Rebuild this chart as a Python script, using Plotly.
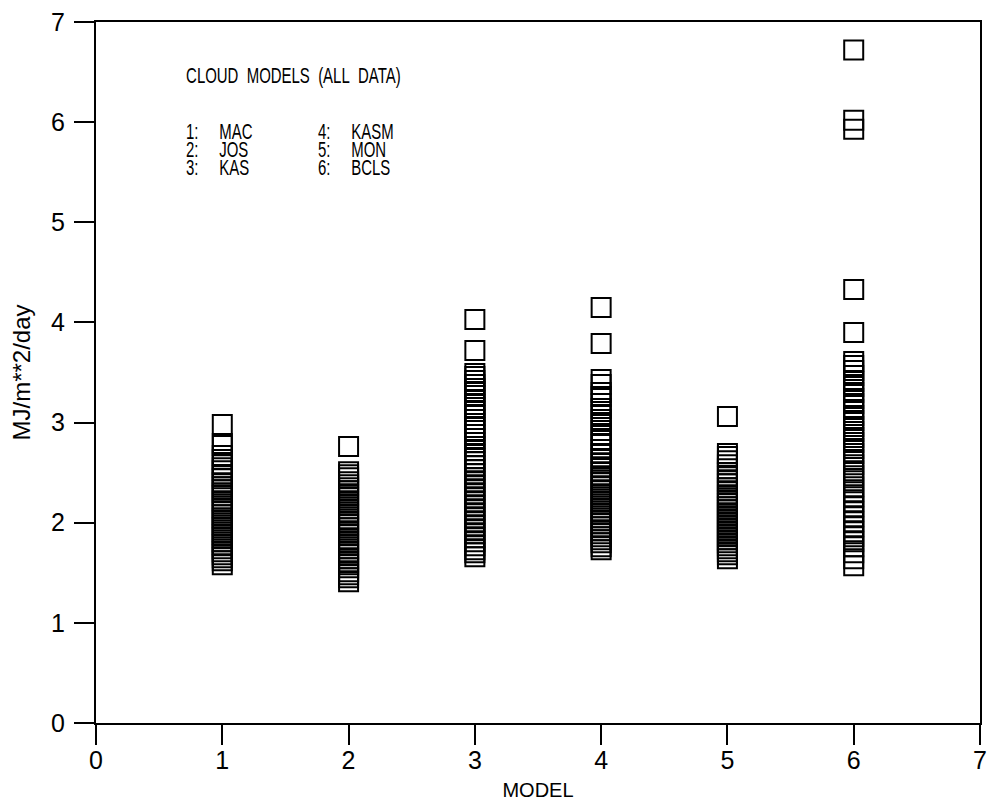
import plotly.graph_objects as go

# ---- data ----
model_ids = [1, 2, 3, 4, 5, 6]
model_names = ["MAC", "JOS", "KAS", "KASM", "MON", "BCLS"]

mac = [2.98, 2.79, 2.77, 2.67, 2.63, 2.58, 2.55, 2.52, 2.47, 2.44, 2.40, 2.36, 2.33,
       2.30, 2.27, 2.22, 2.19, 2.15, 2.12, 2.08, 2.05, 2.02, 1.98, 1.95, 1.91, 1.88,
       1.85, 1.81, 1.78, 1.74, 1.71, 1.68, 1.65, 1.62, 1.58]
jos = [2.76, 2.51, 2.48, 2.45, 2.41, 2.38, 2.35, 2.32, 2.28, 2.25, 2.21, 2.18, 2.14,
       2.11, 2.08, 2.04, 2.01, 1.98, 1.95, 1.91, 1.88, 1.84, 1.81, 1.78, 1.74, 1.71,
       1.68, 1.64, 1.61, 1.58, 1.55, 1.51, 1.48, 1.45, 1.41]
kas = [4.03, 3.72, 3.49, 3.46, 3.42, 3.38, 3.34, 3.31, 3.27, 3.22, 3.18, 3.15, 3.11,
       3.07, 3.03, 2.99, 2.95, 2.92, 2.88, 2.84, 2.80, 2.76, 2.72, 2.68, 2.64, 2.61,
       2.57, 2.53, 2.49, 2.45, 2.41, 2.37, 2.33, 2.29, 2.25, 2.21, 2.17, 2.13, 2.09,
       2.05, 2.01, 1.97, 1.93, 1.89, 1.85, 1.81, 1.77, 1.73, 1.70, 1.66]
kasm = [4.15, 3.79, 3.43, 3.38, 3.30, 3.26, 3.19, 3.14, 3.08, 3.03, 2.98, 2.92, 2.87,
        2.82, 2.78, 2.73, 2.69, 2.64, 2.60, 2.56, 2.51, 2.47, 2.43, 2.40, 2.36, 2.33,
        2.29, 2.26, 2.22, 2.19, 2.15, 2.12, 2.09, 2.05, 2.02, 1.99, 1.96, 1.92, 1.89,
        1.86, 1.83, 1.80, 1.76, 1.73]
mon = [3.06, 2.69, 2.66, 2.62, 2.58, 2.54, 2.50, 2.46, 2.42, 2.39, 2.35, 2.32, 2.28,
       2.25, 2.22, 2.19, 2.16, 2.13, 2.10, 2.07, 2.04, 2.01, 1.98, 1.95, 1.92, 1.89,
       1.86, 1.83, 1.80, 1.77, 1.74, 1.71, 1.68, 1.64]
bcls = [6.72, 6.02, 5.93, 4.33, 3.90, 3.61, 3.57, 3.52, 3.47, 3.41, 3.36, 3.30, 3.24,
        3.19, 3.13, 3.07, 3.02, 2.96, 2.91, 2.85, 2.80, 2.74, 2.69, 2.63, 2.58, 2.52,
        2.47, 2.42, 2.36, 2.31, 2.26, 2.21, 2.16, 2.11, 2.06, 2.01, 1.96, 1.91, 1.86,
        1.81, 1.76, 1.70, 1.64, 1.57]

series = [mac, jos, kas, kasm, mon, bcls]
x_ticks = [0, 1, 2, 3, 4, 5, 6, 7]
y_ticks = [0, 1, 2, 3, 4, 5, 6, 7]
title_words = ["CLOUD", "MODELS", "(ALL", "DATA)"]
x_title = "MODEL"
y_title = "MJ/m**2/day"

FONT = "Liberation Sans, Arial, sans-serif"
NBSP = "\u00a0"

fig = go.Figure()
xs, ys = [], []
for mid, vals in zip(model_ids, series):
    xs += [mid] * len(vals)
    ys += vals
fig.add_trace(go.Scatter(
    x=xs, y=ys, mode="markers",
    marker=dict(symbol="square-open", size=19, color="black",
                line=dict(color="black", width=2)),
    showlegend=False, hoverinfo="x+y"))

axis_common = dict(
    showline=True, linecolor="black", linewidth=2, mirror=True,
    ticks="outside", ticklen=20, tickwidth=2, tickcolor="black",
    showgrid=False, zeroline=False,
    tickfont=dict(family=FONT, size=25, color="black"),
)
fig.update_xaxes(range=[0, 7], tickvals=x_ticks, ticktext=[str(v) for v in x_ticks],
                 ticklabelstandoff=-6,
                 title=dict(text=x_title, font=dict(family=FONT, size=20, color="black"),
                            standoff=10),
                 **axis_common)
fig.update_yaxes(range=[0, 7], tickvals=y_ticks, ticktext=[str(v) for v in y_ticks],
                 ticklabelstandoff=4,
                 title=dict(text=y_title, font=dict(family=FONT, size=24, color="black"),
                            standoff=14),
                 **axis_common)

annots = [dict(x=185, y=72, text=(NBSP * 2).join(title_words))]
for i, (mid, name) in enumerate(zip(model_ids, model_names)):
    col = i // 3
    row = i % 3
    x0 = 185 if col == 0 else 318
    yy = 128 + row * 18
    annots.append(dict(x=x0, y=yy, text=f"{mid}:" + NBSP * 5 + name))

for a in annots:
    px = (a["x"] - 96) / 891
    py = 1 - (a["y"] - 18) / 705
    fig.add_annotation(x=px, y=py, xref="paper", yref="paper", text=a["text"],
                       showarrow=False, xanchor="left", yanchor="middle",
                       font=dict(family=FONT, size=22, color="black"))

fig.update_layout(
    width=995, height=810,
    margin=dict(l=96, r=8, t=18, b=87),
    plot_bgcolor="white", paper_bgcolor="white",
    font=dict(family=FONT, color="black"),
)

# the original lettering is a narrow plotter font: squeeze annotation text horizontally
post = """
var gd = document.getElementById('{plot_id}');
gd.querySelectorAll('g.annotation text.annotation-text').forEach(function(t){
  var bb = t.getBBox();
  var x0 = bb.x;
  var tr = t.getAttribute('transform') || '';
  t.setAttribute('transform', tr + ' translate(' + x0 + ',0) scale(0.68,1) translate(' + (-x0) + ',0)');
});
"""
fig.write_html("out.html", post_script=post)
